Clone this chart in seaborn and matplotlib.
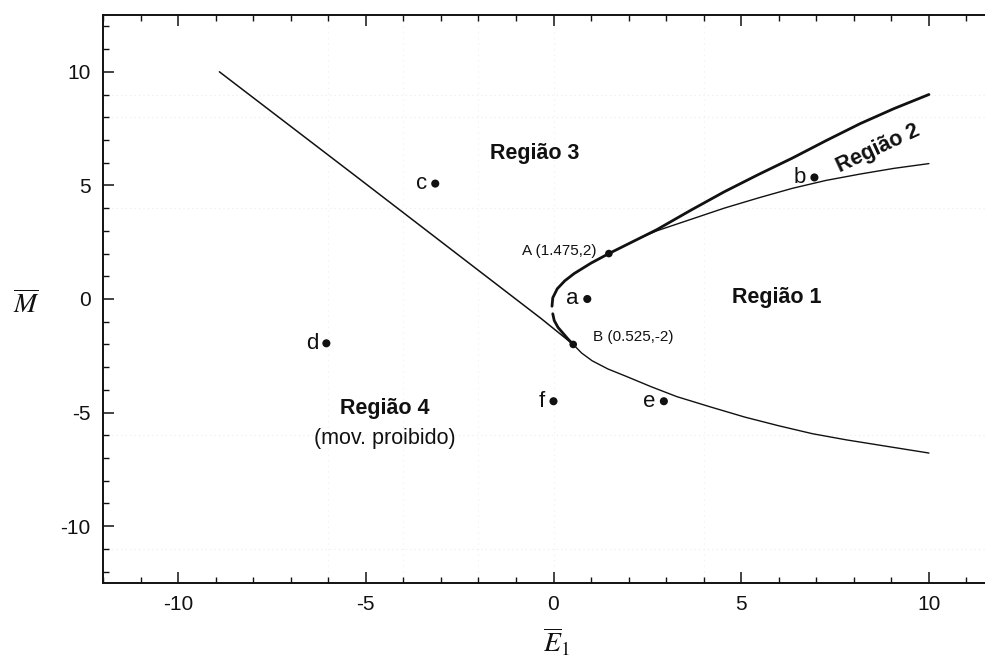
import matplotlib
matplotlib.use("Agg")
import matplotlib.pyplot as plt
from matplotlib.ticker import MultipleLocator
import pandas as pd
import seaborn as sns

# ---- boundary curves in the (E1, M) plane ----
# straight separatrix bounding the forbidden region
line_E = [-8.9, -5.3, -0.33, 0.525]
line_M = [10.0, 5.45, -0.86, -2.0]

# thick branch through A, from the turning point up to the right edge
upper_E = [-0.04, -0.02, 0.10, 0.30, 0.55, 1.00, 1.475, 1.90, 2.75, 3.65,
           4.55, 5.46, 6.36, 7.26, 8.17, 9.07, 10.0]
upper_M = [-0.32, 0.05, 0.45, 0.80, 1.12, 1.58, 2.00, 2.35, 3.05, 3.90,
           4.72, 5.48, 6.20, 6.97, 7.72, 8.38, 9.00]

# thick piece below the turning point, ending at B
lowcap_E = [-0.02, 0.02, 0.12, 0.25, 0.38, 0.525]
lowcap_M = [-0.65, -0.95, -1.25, -1.50, -1.75, -2.00]

# thin branch splitting off the upper curve (lower edge of Região 2)
split_E = [2.30, 2.75, 3.65, 4.55, 5.46, 6.36, 7.26, 8.17, 9.07, 10.0]
split_M = [2.68, 3.00, 3.50, 4.00, 4.45, 4.87, 5.22, 5.50, 5.75, 5.96]

# thin lower branch leaving B
lower_E = [0.525, 0.75, 1.03, 1.45, 1.93, 2.60, 3.29, 4.20, 5.10, 6.00,
           6.90, 7.80, 8.71, 10.0]
lower_M = [-2.00, -2.38, -2.72, -3.08, -3.40, -3.86, -4.30, -4.76, -5.20,
           -5.58, -5.93, -6.20, -6.44, -6.78]

# ---- sample states ----
pt_names = ["a", "b", "c", "d", "e", "f"]
pt_E = [0.90, 6.95, -3.15, -6.05, 2.94, 0.00]
pt_M = [0.00, 5.35, 5.08, -1.95, -4.50, -4.50]

# ---- special points ----
sp_names = ["A (1.475,2)", "B (0.525,-2)"]
sp_E = [1.475, 0.525]
sp_M = [2.0, -2.0]

# ---- region labels ----
reg_text = ["Região 3", "Região 1", "Região 2", "Região 4"]
reg_E = [-0.51, 5.96, 8.64, -4.49]
reg_M = [6.42, 0.07, 6.64, -4.84]
reg_rot = [0, 0, 25, 0]

sns.set_theme(style="ticks")
plt.rcParams["font.family"] = ["Liberation Sans", "DejaVu Sans"]
plt.rcParams["mathtext.fontset"] = "stix"
plt.rcParams["axes.unicode_minus"] = False

ink = "#111111"
fig = plt.figure(figsize=(9.85, 6.61), dpi=100)
fig.patch.set_facecolor("white")
ax = fig.add_axes([103 / 985, 78 / 661, 901 / 985, 568 / 661])
ax.set_facecolor("white")

# faint dotted grid traces
for yv in [9, 8, 4, -6, -11]:
    ax.axhline(yv, color="#ececec", lw=0.8, ls=(0, (1, 3)), zorder=0)
for xv in [-6, -4, -2, 0, 4]:
    ax.axvline(xv, color="#efefef", lw=0.8, ls=(0, (1, 4)), zorder=0)

def curve(xs, ys, lw):
    df = pd.DataFrame({"E": xs, "M": ys})
    sns.lineplot(data=df, x="E", y="M", sort=False, estimator=None,
                 color=ink, lw=lw, ax=ax, zorder=3)

curve(line_E, line_M, 1.1)
curve(upper_E, upper_M, 2.0)
curve(lowcap_E, lowcap_M, 2.0)
curve(split_E, split_M, 1.0)
curve(lower_E, lower_M, 1.0)

pts = pd.DataFrame({"E": pt_E, "M": pt_M, "name": pt_names})
sns.scatterplot(data=pts, x="E", y="M", color=ink, s=34, edgecolor="none",
                ax=ax, zorder=4)
for n, x, y in zip(pt_names, pt_E, pt_M):
    ax.annotate(n, (x, y), xytext=(-6, 0), textcoords="offset points",
                ha="right", va="center", fontsize=16, color=ink)

sps = pd.DataFrame({"E": sp_E, "M": sp_M})
sns.scatterplot(data=sps, x="E", y="M", color=ink, s=30, edgecolor="none",
                ax=ax, zorder=4)
ax.annotate(sp_names[0], (sp_E[0], sp_M[0]), xytext=(-9, 2),
            textcoords="offset points", ha="right", va="center",
            fontsize=11, color=ink)
ax.annotate(sp_names[1], (sp_E[1], sp_M[1]), xytext=(14, 5),
            textcoords="offset points", ha="left", va="center",
            fontsize=11, color=ink)

for t, x, y, r in zip(reg_text, reg_E, reg_M, reg_rot):
    ax.text(x, y, t, ha="center", va="center", rotation=r,
            rotation_mode="anchor", fontsize=15.5, fontweight="bold",
            color=ink)
ax.text(-4.5, -6.16, "(mov. proibido)", ha="center", va="center",
        fontsize=15.5, color=ink)

ax.set_xlim(-12, 12)
ax.set_ylim(-12.5, 12.5)
ax.xaxis.set_major_locator(MultipleLocator(5))
ax.xaxis.set_minor_locator(MultipleLocator(1))
ax.yaxis.set_major_locator(MultipleLocator(5))
ax.yaxis.set_minor_locator(MultipleLocator(1))
ax.tick_params(which="both", direction="in", top=True, right=True,
               colors=ink, labelsize=15, pad=9)
ax.tick_params(which="major", length=8, width=1.1)
ax.tick_params(which="minor", length=4.5, width=1.0)
for s in ax.spines.values():
    s.set_linewidth(1.4)
    s.set_color(ink)
    s.set_visible(True)

ax.set_xlabel(r"$\overline{E}_1$", fontsize=20, color=ink)
ax.set_ylabel(r"$\overline{M}$", fontsize=20, color=ink, rotation=0)
ax.xaxis.set_label_coords(0.503, -0.105)
ax.yaxis.set_label_coords(-0.085, 0.49)
ax.yaxis.label.set_va("center")
ax.xaxis.label.set_va("center")

fig.savefig("out.png", dpi=100, facecolor="white")
